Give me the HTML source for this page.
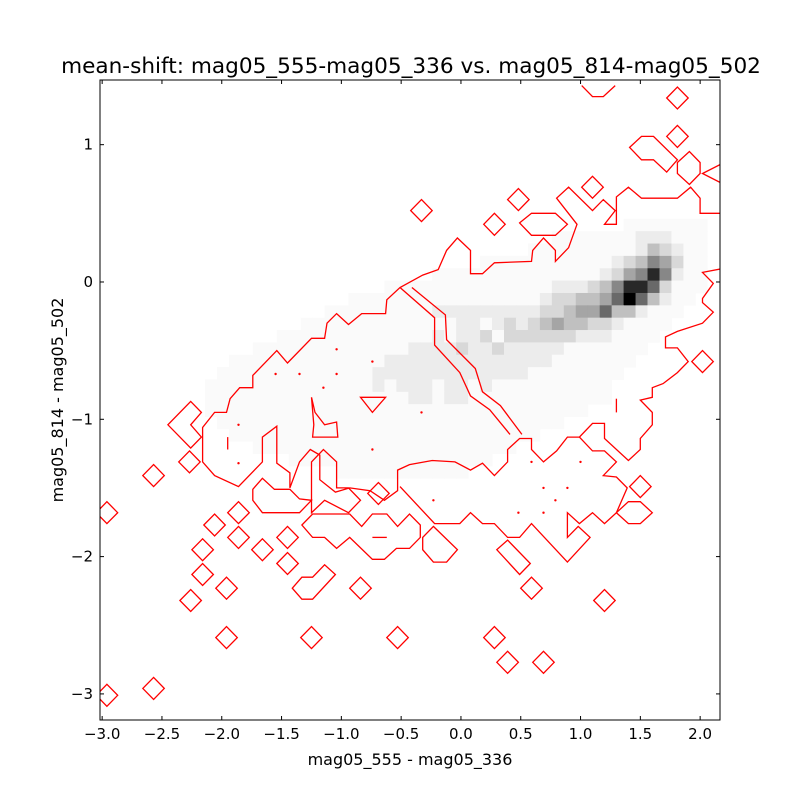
<!DOCTYPE html>
<html><head><meta charset="utf-8"><style>
body{margin:0;background:#fff}
svg{display:block;font-family:"DejaVu Sans","Liberation Sans",sans-serif}
</style></head><body>
<svg id="chart" width="800" height="800" viewBox="0 0 800 800" xmlns="http://www.w3.org/2000/svg">
<rect width="800" height="800" fill="#fff"/>
<text x="411" y="73" font-size="21.6" text-anchor="middle">mean-shift: mag05_555-mag05_336 vs. mag05_814-mag05_502</text>
<text x="410" y="765" font-size="16" text-anchor="middle">mag05_555 - mag05_336</text>
<text x="63" y="400" font-size="16" text-anchor="middle" transform="rotate(-90 63 400)">mag05_814 - mag05_502</text>
<defs><clipPath id="plotclip"><rect x="100" y="80" width="620" height="640"/></clipPath></defs>
<g id="heat" clip-path="url(#plotclip)"></g>
<g id="contours" clip-path="url(#plotclip)" fill="none" stroke="#ff0000" stroke-width="1.3"></g>
<g id="axes"></g>
</svg>
<script>
// axis ranges
const xDomain = [-3.018, 2.166];
const yDomain = [-3.19, 1.471];
const xTicks = [-3.0, -2.5, -2.0, -1.5, -1.0, -0.5, 0.0, 0.5, 1.0, 1.5, 2.0];
const xTickLabels = ["−3.0","−2.5","−2.0","−1.5","−1.0","−0.5","0.0","0.5","1.0","1.5","2.0"];
const yTicks = [1, 0, -1, -2, -3];
const yTickLabels = ["1","0","−1","−2","−3"];
// heatmap bins
const heatX0 = -2.24, heatDX = 0.1, heatY0 = 0.46, heatDY = 0.09;
const heatStart = [36,30,28,24,20,16,13,11,9,7,5,3,2,1,1,1,2,3,5,8,12];
const heatRows = [
"1111111",
"1111111222111",
"111111111243211",
"1111111111123465311",
"11111111111111235696211",
"111111111111112223469973111",
"11111111111111112334457a74211",
"111111111222222222334557442111",
"1111111111111221232345443321111",
"11111111111112122313333332221111",
"111111111111122223223222221111111",
"1111111111111222222222222221111111",
"1111111111111222222222222211111111",
"1111111111111121222122121111111111",
"1111111111111111122122111111111111",
"11111111111111111111111111111111",
"11111111111111111111111111111",
"11111111111111111111111111",
"1111111111111111111111",
"11111111111111111",
"11111111111"
];
const grayLevels = [255,250,236,216,192,165,135,105,75,40,0];
// contour polygons (data units)
const mainContour = [[-2.16,-1.31],[-2.16,-1.06],[-2.06,-0.95],[-1.96,-0.95],[-1.93,-0.85],[-1.85,-0.77],[-1.74,-0.77],[-1.74,-0.68],[-1.54,-0.50],[-1.45,-0.59],[-1.25,-0.41],[-1.14,-0.41],[-1.12,-0.30],[-1.04,-0.23],[-0.94,-0.31],[-0.83,-0.23],[-0.63,-0.23],[-0.62,-0.13],[-0.51,-0.04],[-0.32,0.05],[-0.19,0.09],[-0.12,0.23],[-0.03,0.32],[0.08,0.23],[0.08,0.06],[0.18,0.06],[0.28,0.14],[0.59,0.15],[0.60,0.23],[0.69,0.32],[0.79,0.23],[0.79,0.15],[0.90,0.25],[0.97,0.42],[0.80,0.61],[0.90,0.69],[1.10,0.52],[1.19,0.60],[1.29,0.52],[1.20,0.42],[1.30,0.42],[1.30,0.62],[1.40,0.69],[1.51,0.61],[1.81,0.61],[1.92,0.69],[2.00,0.61],[2.00,0.50],[2.11,0.50],[2.20,0.50],[2.20,0.10],[2.02,0.07],[2.11,-0.01],[2.02,-0.12],[2.02,-0.15],[2.11,-0.22],[2.02,-0.30],[1.81,-0.36],[1.71,-0.40],[1.71,-0.48],[1.81,-0.48],[1.90,-0.58],[1.81,-0.66],[1.69,-0.74],[1.60,-0.77],[1.60,-0.84],[1.50,-0.86],[1.60,-0.95],[1.60,-1.04],[1.50,-1.14],[1.50,-1.22],[1.40,-1.30],[1.20,-1.14],[1.20,-1.03],[1.10,-1.03],[0.99,-1.13],[0.89,-1.13],[0.80,-1.23],[0.69,-1.31],[0.59,-1.22],[0.59,-1.14],[0.49,-1.14],[0.39,-1.22],[0.39,-1.31],[0.28,-1.41],[0.18,-1.32],[0.08,-1.37],[-0.05,-1.31],[-0.24,-1.30],[-0.43,-1.33],[-0.53,-1.37],[-0.53,-1.52],[-0.64,-1.59],[-0.76,-1.52],[-0.93,-1.50],[-1.05,-1.53],[-1.18,-1.44],[-1.18,-1.26],[-1.26,-1.22],[-1.35,-1.31],[-1.43,-1.50],[-1.43,-1.39],[-1.54,-1.32],[-1.54,-1.05],[-1.66,-1.13],[-1.66,-1.31],[-1.86,-1.49],[-2.06,-1.41]];
const lobeLine = [[0.99,-1.13],[1.10,-1.23],[1.20,-1.23],[1.30,-1.31],[1.19,-1.41],[1.30,-1.42],[1.39,-1.50],[1.30,-1.68],[1.20,-1.76],[1.10,-1.68],[0.99,-1.76],[0.89,-1.68],[0.89,-1.86],[0.98,-1.78],[1.08,-1.86],[0.89,-2.04],[0.59,-1.76],[0.49,-1.86],[0.39,-1.86],[0.28,-1.76],[0.18,-1.76],[0.08,-1.68],[-0.01,-1.76],[-0.22,-1.76],[-0.51,-1.49]];
const diagA = [[-0.51,-0.04],[-0.22,-0.26],[-0.22,-0.46],[-0.01,-0.66],[0.08,-0.83],[0.24,-0.93],[0.41,-1.11]];
const diagB = [[-0.41,-0.04],[-0.13,-0.24],[-0.12,-0.42],[0.12,-0.63],[0.18,-0.80],[0.33,-0.90],[0.51,-1.11]];
const closedShapes = [
[[-2.26,-0.87],[-2.17,-0.95],[-2.26,-1.04],[-2.17,-1.13],[-2.26,-1.21],[-2.45,-1.04]],
[[-1.41,-2.23],[-1.33,-2.15],[-1.24,-2.15],[-1.14,-2.06],[-1.05,-2.13],[-1.24,-2.31],[-1.33,-2.31]],
[[0.49,0.43],[0.59,0.50],[0.79,0.50],[0.89,0.42],[0.79,0.34],[0.59,0.34]],
[[1.41,0.98],[1.51,1.06],[1.61,1.06],[1.81,0.89],[1.72,0.80],[1.61,0.89],[1.51,0.89]],
[[1.81,0.87],[1.91,0.95],[2.00,0.87],[2.00,0.79],[1.91,0.71],[1.81,0.79]],
[[-1.33,-1.77],[-1.24,-1.69],[-0.93,-1.69],[-0.83,-1.78],[-0.74,-1.69],[-0.62,-1.69],[-0.53,-1.78],[-0.43,-1.69],[-0.34,-1.77],[-0.34,-1.86],[-0.43,-1.94],[-0.54,-1.94],[-0.64,-2.02],[-0.74,-2.02],[-0.93,-1.86],[-1.04,-1.94],[-1.14,-1.86],[-1.24,-1.86]],
[[-0.23,-1.78],[-0.03,-1.95],[-0.12,-2.04],[-0.23,-2.04],[-0.32,-1.95],[-0.32,-1.86]],
[[0.39,-1.88],[0.58,-2.05],[0.49,-2.13],[0.30,-1.95]],
[[1.30,-1.68],[1.40,-1.60],[1.50,-1.60],[1.60,-1.68],[1.50,-1.76],[1.40,-1.76]],
[[-1.74,-1.51],[-1.66,-1.43],[-1.56,-1.51],[-1.43,-1.51],[-1.35,-1.58],[-1.25,-1.59],[-1.35,-1.68],[-1.66,-1.68],[-1.74,-1.59]],
[[-1.25,-1.31],[-1.15,-1.22],[-1.04,-1.31],[-1.04,-1.50],[-0.94,-1.50],[-0.84,-1.59],[-0.94,-1.68],[-1.14,-1.59],[-1.25,-1.68]],
[[-0.84,-0.84],[-0.63,-0.84],[-0.74,-0.95]],
[[-1.25,-0.84],[-1.23,-1.04],[-1.24,-1.13],[-1.03,-1.13],[-1.04,-1.02],[-1.14,-1.04],[-1.22,-0.95]]
];
const openShapes = [
[[1.01,1.43],[1.10,1.35],[1.19,1.35],[1.29,1.43]],
[[2.20,0.87],[2.02,0.79],[2.20,0.71]],
[[1.30,-0.85],[1.30,-0.95]],
[[-1.95,-1.13],[-1.95,-1.22]],
[[-0.74,-1.86],[-0.62,-1.86]]
];
const diamondX = [-2.27,-2.57,-1.86,-2.06,-1.86,-2.16,-1.66,-1.45,-1.45,-2.16,-1.96,-2.26,-1.96,-1.25,-0.53,-0.84,-2.57,-0.33,0.28,0.48,1.10,1.81,1.81,2.02,1.50,1.20,0.59,0.28,0.39,0.69,-2.96,-2.96,-0.69];
const diamondY = [-1.31,-1.41,-1.68,-1.77,-1.86,-1.95,-1.95,-1.86,-2.05,-2.13,-2.23,-2.32,-2.59,-2.59,-2.59,-2.23,-2.96,0.52,0.42,0.60,0.69,1.34,1.06,-0.58,-1.49,-2.32,-2.23,-2.59,-2.77,-2.77,-1.68,-3.01,-1.54];
const dotX = [0.59,1.0,0.69,0.89,0.79,0.48,0.69,-1.04,-1.55,-1.35,-1.04,-1.15,-0.74,-1.86,-1.86,-0.74,-0.33,-0.23];
const dotY = [-1.31,-1.31,-1.50,-1.50,-1.59,-1.68,-1.68,-0.49,-0.67,-0.67,-0.67,-0.77,-0.58,-1.04,-1.32,-1.22,-0.95,-1.59];

const L=100,R=720,T=80,B=720;
function sx(v){return L+(v-xDomain[0])/(xDomain[1]-xDomain[0])*(R-L);}
function sy(v){return B-(v-yDomain[0])/(yDomain[1]-yDomain[0])*(B-T);}
const NS="http://www.w3.org/2000/svg";
function mk(tag,attrs,parent){const e=document.createElementNS(NS,tag);for(const k in attrs)e.setAttribute(k,attrs[k]);parent.appendChild(e);return e;}

const heat=document.getElementById('heat');
heatRows.forEach((row,r)=>{
  for(let i=0;i<row.length;i++){
    const v=parseInt(row[i],16); if(!v) continue;
    const c=heatStart[r]+i;
    const x0=sx(heatX0+c*heatDX), x1=sx(heatX0+(c+1)*heatDX);
    const y0=sy(heatY0-r*heatDY), y1=sy(heatY0-(r+1)*heatDY);
    const g=grayLevels[v];
    const cell=mk('rect',{x:x0.toFixed(2),y:y0.toFixed(2),width:(x1-x0+0.4).toFixed(2),height:(y1-y0+0.4).toFixed(2),fill:`rgb(${g},${g},${g})`},heat);
    
    
  }
});

const cg=document.getElementById('contours');
function pts(a){return a.map(p=>sx(p[0]).toFixed(1)+','+sy(p[1]).toFixed(1)).join(' ');}
const mainEl=mk('polygon',{points:pts(mainContour)},cg);


[lobeLine,diagA,diagB].forEach(a=>{
  const el=mk('polyline',{points:pts(a)},cg);
  
  
});
closedShapes.forEach(a=>{
  const el=mk('polygon',{points:pts(a)},cg);
  
  
});
openShapes.forEach(a=>{
  const el=mk('polyline',{points:pts(a)},cg);
  
  
});
diamondX.forEach((x,i)=>{
  const y=diamondY[i];
  const d=[[x-0.09,y],[x,y+0.08],[x+0.09,y],[x,y-0.08]];
  const el=mk('polygon',{points:pts(d)},cg);
  
  
});
dotX.forEach((x,i)=>{
  const el=mk('circle',{cx:sx(x).toFixed(1),cy:sy(dotY[i]).toFixed(1),r:1.2,fill:'#ff0000',stroke:'none'},cg);
  
  
});

const ax=document.getElementById('axes');
const frame=mk('rect',{x:L,y:T,width:R-L,height:B-T,fill:'none',stroke:'#000','stroke-width':1},ax);


xTicks.forEach((v,i)=>{
  const x=sx(v);
  mk('line',{x1:x,y1:B,x2:x,y2:B-4,stroke:'#000'},ax);
  mk('line',{x1:x,y1:T,x2:x,y2:T+4,stroke:'#000'},ax);
  const t=mk('text',{x:x.toFixed(1),y:739,'font-size':15,'text-anchor':'middle'},ax);
  t.textContent=xTickLabels[i];
  
  
});
yTicks.forEach((v,i)=>{
  const y=sy(v);
  mk('line',{x1:L,y1:y,x2:L+4,y2:y,stroke:'#000'},ax);
  mk('line',{x1:R,y1:y,x2:R-4,y2:y,stroke:'#000'},ax);
  const t=mk('text',{x:93,y:(y+5).toFixed(1),'font-size':15,'text-anchor':'end'},ax);
  t.textContent=yTickLabels[i];
  
  
});
</script>
</body></html>
